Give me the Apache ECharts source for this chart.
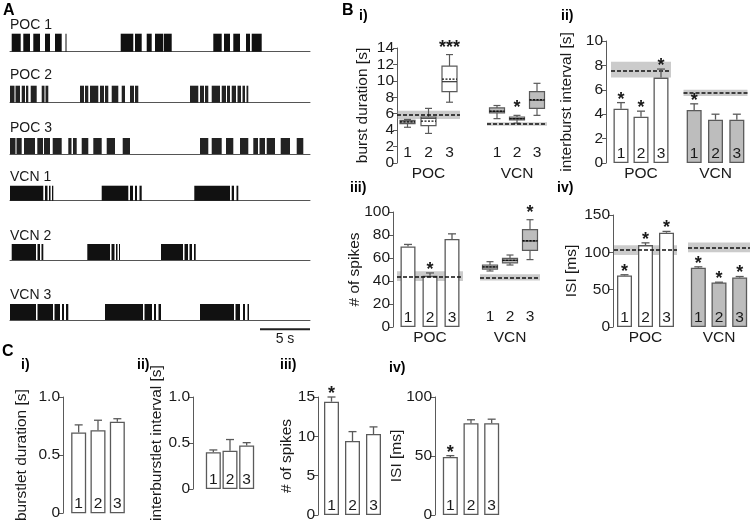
<!DOCTYPE html>
<html>
<head>
<meta charset="utf-8">
<script src="https://cdn.jsdelivr.net/npm/echarts@6/dist/echarts.min.js"></script>
<style>
  html,body{margin:0;padding:0;background:#fff;}
  #main{width:750px;height:523px;}
</style>
</head>
<body>
<div id="main"></div>
<script>
// ---- A: spike trains, burstlet segments [start, end] in seconds ----
const traceNames = ['POC 1', 'POC 2', 'POC 3', 'VCN 1', 'VCN 2', 'VCN 3'];
const poc1 = [[0.17,1.07],[1.33,2.0],[2.33,3.0],[3.5,4.0],[4.5,5.17],[5.55,5.62],
  [11.07,12.33],[12.5,13.17],[13.67,14.17],[14.5,15.33],[15.4,16.17],
  [20.33,21.17],[21.4,22.0],[22.33,23.0],[23.6,24.0],[24.17,25.17]];
const poc2 = [[0,0.45],[0.55,1.0],[1.17,1.5],[1.6,1.83],[2.07,2.67],[3.17,3.45],[3.55,3.83],
  [7.0,7.4],[7.5,7.83],[8.0,8.83],[9.0,9.4],[9.5,9.83],[10.17,10.83],[11.17,11.5],[12.0,12.4],[12.5,12.83],
  [18.0,18.83],[19.0,19.4],[19.5,19.83],[20.17,21.0],[21.17,21.6],[21.7,22.0],[22.17,22.6],[22.75,23.1],[23.25,23.5],[23.65,23.83]];
const poc3 = [[0,0.55],[0.65,1.17],[1.4,2.5],[2.73,3.3],[3.4,4.0],[4.27,5.17],[5.83,6.15],[6.3,6.67],[7.17,7.83],[8.33,9.17],[9.67,10.5],[11.27,12.0],
  [19.0,19.83],[20.17,21.17],[21.6,22.33],[23.0,23.83],[24.33,24.8],[24.95,25.5],[25.67,26.5],[27.07,28.0],[28.67,29.33]];
const vcn1 = [[0,3.33],[3.5,3.75],[3.9,4.05],[4.2,4.33],
  [9.17,11.83],[12.0,12.3],[12.5,12.7],[12.95,13.17],
  [18.43,22.0],[22.17,22.4],[22.65,22.83]];
const vcn2 = [[0.17,2.6],[2.75,3.0],[3.15,3.33],
  [7.73,10.0],[10.15,10.45],[10.6,10.75],[10.9,11.0],
  [15.1,17.3],[17.45,17.8],[17.95,18.2],[18.4,18.57]];
const vcn3 = [[0,2.6],[2.75,4.3],[4.45,5.0],[5.2,5.4],[5.6,5.83],
  [9.5,13.3],[13.45,14.2],[14.4,14.6],[14.85,15.1],
  [19.0,22.4],[22.55,23.0],[23.3,23.5],[23.75,23.9]];
const traces = [poc1, poc2, poc3, vcn1, vcn2, vcn3];
const scaleBar = [25, 30];

// ---- B i: burst duration [s] (box: min, q1, median, q3, max; mean) ----
const biPocBox = [[4.35,4.8,5.0,5.2,5.3],[3.6,4.55,5.45,5.6,6.65],[7.4,8.7,9.9,11.8,13.2]];
const biPocMean = [5.0, 5.1, 10.2];
const biVcnBox = [[5.4,6.1,6.3,6.7,7.0],[4.85,5.25,5.4,5.6,5.8],[5.8,6.65,7.65,8.7,9.7]];
const biVcnMean = [6.3, 5.4, 7.7];
const biStarsPoc = ['', '', '***'];
const biStarsVcn = ['', '*', ''];
const biRefPoc = [5.85, 5.35, 6.35];
const biRefVcn = [4.75, 4.55, 4.95];

// ---- B ii: interburst interval [s] ----
const biiPoc = [4.45, 3.8, 7.0];
const biiPocErr = [0.5, 0.45, 0.7];
const biiVcn = [4.35, 3.55, 3.55];
const biiVcnErr = [0.5, 0.45, 0.45];
const biiStarsPoc = ['*', '*', '*'];
const biiStarsVcn = ['*', '', ''];
const biiRefPoc = [7.6, 7.0, 8.3];
const biiRefVcn = [5.75, 5.5, 6.0];

// ---- B iii: # of spikes ----
const biiiPoc = [70, 44.5, 76.5];
const biiiPocErr = [1.8, 2.5, 4.5];
const biiiStarsPoc = ['', '*', ''];
const biiiVcnBox = [[48.7,50.4,52.2,53.9,56.8],[53.9,55.7,58,59.7,62.6],[58.6,66.7,74.8,84.6,93.3]];
const biiiVcnMean = [52.2, 58, 75];
const biiiStarsVcn = ['', '', '*'];
const biiiRefPoc = [44, 40, 48.5];
const biiiRefVcn = [43, 40.5, 45.8];

// ---- B iv: ISI [ms] ----
const bivPoc = [69, 109.7, 126.3];
const bivPocErr = [1, 3, 1.7];
const bivVcn = [79.3, 59.6, 66.3];
const bivVcnErr = [1.3, 0.4, 1.3];
const bivStarsPoc = ['*', '*', '*'];
const bivStarsVcn = ['*', '*', '*'];
const bivRefPoc = [103, 96.5, 109.5];
const bivRefVcn = [106.5, 100, 113.3];

// ---- C: burstlets ----
const ciVal = [0.694, 0.714, 0.787], ciErr = [0.066, 0.086, 0.026], ciStars = ['', '', ''];
const ciiVal = [0.40, 0.416, 0.473], ciiErr = [0.025, 0.122, 0.031], ciiStars = ['', '', ''];
const ciiiVal = [14.4, 9.4, 10.3], ciiiErr = [0.6, 1.2, 0.9], ciiiStars = ['*', '', ''];
const civVal = [49.1, 77.8, 77.8], civErr = [1.2, 2.9, 3.4], civStars = ['*', '', ''];

const groups = ['1', '2', '3'];

const FONT = 'Liberation Sans, Arial, sans-serif';
const FS = 15.5;
const INK = '#1a1a1a';
const EDGE = '#5a5a5a';
const GRAYFILL = '#bdbdbd';

const option = {
  animation: false,
  backgroundColor: '#fff',
  textStyle: { fontFamily: FONT },
  grid: [], xAxis: [], yAxis: [], series: [], graphic: []
};

function addGrid(box, x, y) {
  const i = option.grid.length;
  option.grid.push(Object.assign({ containLabel: false }, box));
  option.xAxis.push(Object.assign({ gridIndex: i }, x));
  option.yAxis.push(Object.assign({ gridIndex: i }, y));
  return i;
}

// ---------- A ----------
const traceBase = [51.7, 102.7, 154, 200.7, 260, 320];
const traceH = [18, 17, 16, 15, 16, 16];
const traceLabelY = [25, 75, 128, 177, 236, 295];

function spikeItem(params, api) {
  const a = api.coord([api.value(0), 0]);
  const b = api.coord([api.value(1), 1]);
  return {
    type: 'rect',
    shape: { x: a[0], y: b[1], width: Math.max(b[0] - a[0], 1), height: a[1] - b[1] },
    style: { fill: api.visual('color') }
  };
}

traces.forEach((tr, k) => {
  const g = addGrid({ left: 10, width: 300, top: traceBase[k] - traceH[k], height: traceH[k] },
    { type: 'value', min: 0, max: 30, axisLine: { show: true, lineStyle: { color: '#555', width: 1 } },
      axisTick: { show: false }, axisLabel: { show: false }, splitLine: { show: false } },
    { type: 'value', min: 0, max: 1, show: false });
  option.series.push({
    type: 'custom', xAxisIndex: g, yAxisIndex: g, clip: false,
    itemStyle: { color: k === 1 || k === 2 ? '#222' : '#111' },
    renderItem: spikeItem, data: tr
  });
  option.graphic.push({ type: 'text', x: 10, y: traceLabelY[k],
    style: { text: traceNames[k], font: '14px ' + FONT, fill: INK, verticalAlign: 'middle' } });
  if (k === 5) {
    option.series.push({
      type: 'custom', xAxisIndex: g, yAxisIndex: g, clip: false,
      renderItem: function (params, api) {
        const a = api.coord([api.value(0), -0.58]);
        const b = api.coord([api.value(1), -0.58]);
        return { type: 'group', children: [
          { type: 'line', shape: { x1: a[0], y1: a[1], x2: b[0], y2: b[1] }, style: { stroke: '#222', lineWidth: 2 } },
          { type: 'text', x: (a[0] + b[0]) / 2, y: a[1] + 10,
            style: { text: '5 s', font: '14px ' + FONT, fill: INK, align: 'center', verticalAlign: 'middle' } }
        ] };
      },
      data: [scaleBar]
    });
  }
});

// ---------- shared pieces for B / C ----------
function yAx(max, interval, name, gap, offset, fmt, show) {
  return {
    type: 'value', min: 0, max: max, interval: interval, show: show !== false, offset: offset || 0,
    name: name, nameLocation: 'middle', nameGap: gap, nameMoveOverlap: false,
    nameTextStyle: { fontSize: FS, color: INK, fontFamily: FONT },
    axisLine: { show: true, lineStyle: { color: EDGE, width: 1 } },
    axisTick: { show: true, length: 4, lineStyle: { color: EDGE } },
    axisLabel: { fontSize: FS, color: INK, margin: 3, fontFamily: FONT, formatter: fmt },
    splitLine: { show: false }
  };
}
function xAx(name, insideLabels) {
  return {
    type: 'category', data: groups,
    name: name || '', nameLocation: 'middle', nameGap: 3, nameMoveOverlap: false,
    nameTextStyle: { fontSize: FS, color: INK, fontFamily: FONT, verticalAlign: 'top' },
    axisLine: { show: false }, axisTick: { show: false },
    axisLabel: { show: !!insideLabels, inside: true, margin: 2, fontSize: FS, color: INK, fontFamily: FONT }
  };
}
function refMarks(ref) {
  if (!ref) return {};
  return {
    markArea: { silent: true, itemStyle: { color: 'rgba(140,140,140,0.45)' },
      data: [[{ yAxis: ref[1] }, { yAxis: ref[2] }]] },
    markLine: { silent: true, symbol: 'none', label: { show: false },
      lineStyle: { type: [4, 2], color: '#111', width: 1.5 }, data: [{ yAxis: ref[0] }] }
  };
}
function starText(x, y, s) {
  return { type: 'text', x: x, y: y,
    style: { text: s, font: 'bold 18px ' + FONT, fill: INK, align: 'center', verticalAlign: 'middle' } };
}

function addBars(g, vals, errs, stars, fill, ref) {
  option.series.push(Object.assign({
    type: 'bar', xAxisIndex: g, yAxisIndex: g, barWidth: 15,
    itemStyle: { color: fill, borderColor: EDGE, borderWidth: 1.3 },
    label: { show: true, position: 'insideBottom', distance: 1, fontSize: FS, color: INK, fontFamily: FONT,
      formatter: p => groups[p.dataIndex] },
    data: vals
  }, refMarks(ref)));
  option.series.push({
    type: 'custom', xAxisIndex: g, yAxisIndex: g, clip: false, z: 5,
    renderItem: function (params, api) {
      const i = api.value(0);
      const p0 = api.coord([i, api.value(1)]);
      const p1 = api.coord([i, api.value(1) + api.value(2)]);
      const kids = [
        { type: 'line', shape: { x1: p0[0], y1: p0[1], x2: p1[0], y2: p1[1] }, style: { stroke: EDGE, lineWidth: 1.3 } },
        { type: 'line', shape: { x1: p1[0] - 4, y1: p1[1], x2: p1[0] + 4, y2: p1[1] }, style: { stroke: EDGE, lineWidth: 1.3 } }
      ];
      if (stars[params.dataIndex]) kids.push(starText(p1[0], p1[1] - 3, stars[params.dataIndex]));
      return { type: 'group', children: kids };
    },
    data: vals.map((v, i) => [i, v, errs[i]])
  });
}

function addBoxes(g, boxes, means, stars, fill, ref) {
  option.series.push(Object.assign({
    type: 'custom', xAxisIndex: g, yAxisIndex: g, clip: false,
    renderItem: function (params, api) {
      const i = api.value(0);
      const c = v => api.coord([i, v]);
      const lo = c(api.value(1)), q1 = c(api.value(2)), md = c(api.value(3)),
        q3 = c(api.value(4)), hi = c(api.value(5)), mn = c(api.value(6));
      const x = lo[0], hw = 7.5, cw = 3.5;
      const ln = (x1, y1, x2, y2, extra) => ({ type: 'line', shape: { x1, y1, x2, y2 },
        style: Object.assign({ stroke: EDGE, lineWidth: 1.2 }, extra || {}) });
      const kids = [
        ln(x, hi[1], x, q3[1]), ln(x, q1[1], x, lo[1]),
        ln(x - cw, hi[1], x + cw, hi[1]), ln(x - cw, lo[1], x + cw, lo[1]),
        { type: 'rect', shape: { x: x - hw, y: q3[1], width: 2 * hw, height: q1[1] - q3[1] },
          style: { fill: fill, stroke: EDGE, lineWidth: 1.2 } },
        ln(x - hw, md[1], x + hw, md[1], { stroke: '#333' }),
        ln(x - hw, mn[1], x + hw, mn[1], { stroke: '#111', lineDash: [2, 1.5], lineWidth: 1.3 })
      ];
      if (stars[params.dataIndex]) kids.push(starText(x, hi[1] - 7, stars[params.dataIndex]));
      return { type: 'group', children: kids };
    },
    data: boxes.map((b, i) => [i].concat(b, [means[i]]))
  }, refMarks(ref)));
}

// ---------- B i ----------
let g;
g = addGrid({ left: 397, top: 48, width: 63, height: 115 }, xAx('POC', true),
  yAx(14, 2, 'burst duration [s]', 26, 0));
addBoxes(g, biPocBox, biPocMean, biStarsPoc, '#fff', biRefPoc);
g = addGrid({ left: 487, top: 48, width: 60, height: 115 }, xAx('VCN', true),
  yAx(14, 2, '', 0, 0, null, false));
addBoxes(g, biVcnBox, biVcnMean, biStarsVcn, GRAYFILL, biRefVcn);

// ---------- B ii ----------
g = addGrid({ left: 611, top: 41, width: 60, height: 122 }, xAx('POC'),
  yAx(10, 2, 'interburst interval [s]', 31, 5));
addBars(g, biiPoc, biiPocErr, biiStarsPoc, '#fff', biiRefPoc);
g = addGrid({ left: 683.5, top: 41, width: 64, height: 122 }, xAx('VCN'),
  yAx(10, 2, '', 0, 0, null, false));
addBars(g, biiVcn, biiVcnErr, biiStarsVcn, GRAYFILL, biiRefVcn);

// ---------- B iii ----------
g = addGrid({ left: 397, top: 212, width: 66, height: 115 }, xAx('POC'),
  yAx(100, 20, '# of spikes', 30, 4));
addBars(g, biiiPoc, biiiPocErr, biiiStarsPoc, '#fff', biiiRefPoc);
g = addGrid({ left: 480, top: 212, width: 60, height: 115 }, xAx('VCN', true),
  yAx(100, 20, '', 0, 0, null, false));
addBoxes(g, biiiVcnBox, biiiVcnMean, biiiStarsVcn, GRAYFILL, biiiRefVcn);

// ---------- B iv ----------
g = addGrid({ left: 614, top: 215, width: 63, height: 112 }, xAx('POC'),
  yAx(150, 50, 'ISI [ms]', 33, 1));
addBars(g, bivPoc, bivPocErr, bivStarsPoc, '#fff', bivRefPoc);
g = addGrid({ left: 688, top: 215, width: 66, height: 112 }, xAx('VCN'),
  yAx(150, 50, '', 0, 0, null, false));
addBars(g, bivVcn, bivVcnErr, bivStarsVcn, GRAYFILL, bivRefVcn);

// ---------- C ----------
const oneDec = v => (v === 0 ? '0' : v.toFixed(1));
g = addGrid({ left: 69, top: 397, width: 58, height: 118 }, xAx(''),
  yAx(1, 0.5, 'burstlet duration [s]', 33, 6, oneDec));
addBars(g, ciVal, ciErr, ciStars, '#fff');
g = addGrid({ left: 205, top: 397, width: 50, height: 118 }, xAx(''),
  yAx(1, 0.5, 'interburstlet interval [s]', 28, 12, oneDec));
addBars(g, ciiVal, ciiErr, ciiStars, '#fff');
g = addGrid({ left: 321, top: 397, width: 63, height: 118 }, xAx(''),
  yAx(15, 5, '# of spikes', 23, 3));
addBars(g, ciiiVal, ciiiErr, ciiiStars, '#fff');
g = addGrid({ left: 440, top: 397, width: 62, height: 118 }, xAx(''),
  yAx(100, 50, 'ISI [ms]', 30, 5));
addBars(g, civVal, civErr, civStars, '#fff');

// ---------- panel labels ----------
const panelLabels = [
  ['A', 3, 11, 16], ['B', 342, 11, 16], ['i)', 359, 16, 14], ['ii)', 561, 16, 14],
  ['iii)', 350, 188, 14], ['iv)', 557, 188, 14],
  ['C', 2, 352, 16], ['i)', 21, 365, 14], ['ii)', 137, 365, 14], ['iii)', 280, 365, 14], ['iv)', 389, 368, 14]
];
panelLabels.forEach(p => option.graphic.push({ type: 'text', x: p[1], y: p[2],
  style: { text: p[0], font: 'bold ' + p[3] + 'px ' + FONT, fill: '#000', verticalAlign: 'middle' } }));

const chart = echarts.init(document.getElementById('main'), null, { renderer: 'canvas' });
chart.setOption(option);
</script>
</body>
</html>
